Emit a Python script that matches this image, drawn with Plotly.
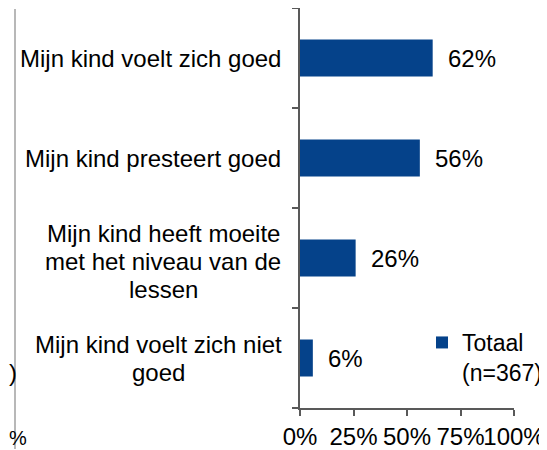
import plotly.graph_objects as go

categories = ["Mijn kind voelt zich goed",
              "Mijn kind presteert goed",
              "Mijn kind heeft moeite<br>met het niveau van de<br>lessen",
              "Mijn kind voelt zich niet<br>goed"]
values = [0.62, 0.56, 0.26, 0.06]
labels = ["62%", "56%", "26%", "6%"]
series_name = "Totaal<br>(n=367)"

blue = "#05428A"
axis_col = "#595959"
font = "Liberation Sans, Arial, sans-serif"
fs = 24

# the page body adds an 8px margin, so the figure is a bit smaller than the window
OFF = 8
W, H = 547 - OFF, 450 - OFF
L, R, T, B = 300 - OFF, 33, 0, 42
pw = W - L - R
ph = H - T - B

def px_x(px):  # figure pixel -> paper
    return (px - L) / pw

def px_y(py):
    return (H - B - py) / ph

label_centers = [None, None, 163 - OFF, 158 - OFF]  # pixel centres of multi-line labels
label_dy = [0, 0, -3, 0]
line_gap = 28

fig = go.Figure(go.Bar(
    x=values, y=list(range(len(categories))), orientation="h",
    marker=dict(color=blue, line=dict(width=0)),
    width=0.37, name=series_name, showlegend=True,
))

# data labels
for i, (v, t) in enumerate(zip(values, labels)):
    fig.add_annotation(x=v, y=i, xref="x", yref="y", text=t, showarrow=False,
                       xanchor="left", xshift=13, font=dict(size=fs, color="black", family=font))

# category labels
for i, c in enumerate(categories):
    lines = c.split("<br>")
    if len(lines) == 1:
        fig.add_annotation(x=0, y=i, xref="x", yref="y", text=c, showarrow=False,
                           xanchor="right", xshift=-17,
                           font=dict(size=fs, color="black", family=font))
    else:
        n = len(lines)
        for k, ln in enumerate(lines):
            fig.add_annotation(x=0, y=i, xref="x", yref="y", text=ln, showarrow=False,
                               xanchor="center", xshift=label_centers[i] - L,
                               yshift=-(k - (n - 1) / 2) * line_gap + label_dy[i],
                               font=dict(size=fs, color="black", family=font))

# bits of neighbouring chart at left edge
fig.add_shape(type="line", xref="paper", yref="paper", x0=px_x(15 - OFF), x1=px_x(15 - OFF),
              y0=px_y(H - 1), y1=px_y(1), layer="above",
              line=dict(color="#b8b8b8", width=2))
fig.add_annotation(xref="paper", yref="paper", x=px_x(-1), y=px_y(372 - OFF),
                   text=")", showarrow=False, xanchor="left", yanchor="middle",
                   font=dict(size=fs, color="black", family=font))
fig.add_annotation(xref="paper", yref="paper", x=px_x(-1), y=px_y(438 - OFF),
                   text="%", showarrow=False, xanchor="left", yanchor="middle",
                   font=dict(size=fs - 4, color="black", family=font))

fig.update_layout(
    width=W, height=H,
    margin=dict(l=L, r=R, t=T, b=B, autoexpand=False),
    paper_bgcolor="white", plot_bgcolor="white",
    font=dict(family=font, size=fs, color="black"),
    legend=dict(x=px_x(422 - OFF), y=px_y(321 - OFF), xanchor="left", yanchor="top", valign="top",
                bgcolor="rgba(0,0,0,0)", font=dict(size=fs - 1), itemwidth=30),
    xaxis=dict(range=[0, 1], tickvals=[0, 0.25, 0.5, 0.75, 1],
               ticktext=["0%", "25%", "50%", "75%", "100%"], automargin=False, tickangle=0,
               showgrid=False, zeroline=False, showline=True, linecolor=axis_col, linewidth=1.5,
               ticks="outside", ticklen=6, tickcolor=axis_col, tickwidth=1.5),
    yaxis=dict(range=[3.5, -0.5], tickvals=[-0.5, 0.5, 1.5, 2.5, 3.5], automargin=False,
               showticklabels=False, showgrid=False, zeroline=False,
               showline=True, linecolor=axis_col, linewidth=1.5,
               ticks="outside", ticklen=6, tickcolor=axis_col, tickwidth=1.5),
)

fig.write_html("out.html")
